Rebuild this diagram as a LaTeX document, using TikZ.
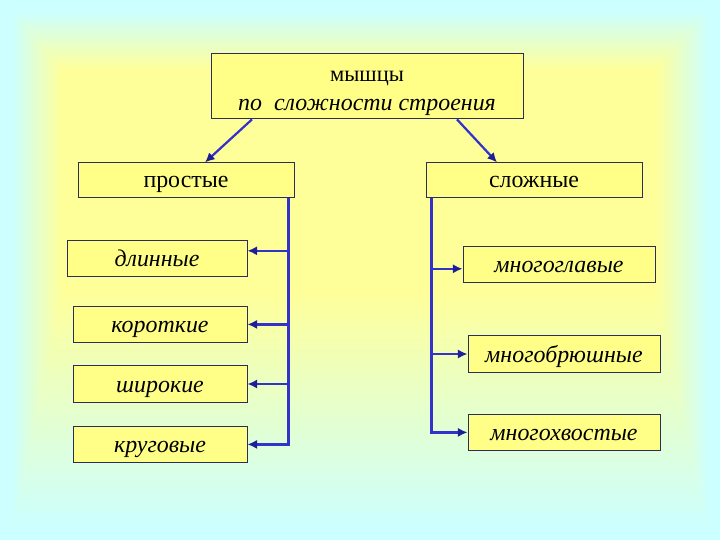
\documentclass[tikz,border=0pt]{standalone}
\usepackage{fontspec}
\setmainfont{Liberation Serif}
\usepackage{tikz}
\usetikzlibrary{arrows.meta,positioning,calc}
\definecolor{mcbgcyan}{RGB}{204,255,255}
\definecolor{mcbgyellow}{RGB}{255,255,153}
\definecolor{mcfill}{RGB}{255,255,136}
\definecolor{mcline}{RGB}{45,45,90}
\definecolor{mcblue}{RGB}{51,51,204}
\definecolor{mctip}{RGB}{30,30,150}
\tikzset{
mcbox/.style={rectangle,draw=mcline,fill=mcfill,line width=0.7pt,align=center,inner sep=0pt},
mcroot/.style={mcbox,minimum width=7.8cm,text height=1.425cm,text depth=0.2cm,font=\fontsize{16}{21}\selectfont},
mcgroup/.style={mcbox,minimum width=5.4cm,text height=0.625cm,text depth=0.25cm,font=\fontsize{17}{20}\selectfont},
mcleaf/.style={mcbox,minimum width=4.35cm,text height=0.67cm,text depth=0.25cm,font=\fontsize{17}{20}\selectfont\itshape},
mcarr/.style={-{Latex[length=2.4mm,width=2.3mm,color=mctip]},draw=mcblue,line width=1.6pt},
mcbg/.style={draw=none}
}
\begin{document}
\begin{tikzpicture}[x=1cm,y=1cm]
\useasboundingbox (0,0) rectangle (18,-13.5);
% background
\fill[mcbgcyan] (0,0) rectangle (18,-13.5);
\shade[mcbg,top color=mcbgcyan,bottom color=mcbgyellow] (0.3,-0.3) -- (17.7,-0.3) -- (16.375,-1.75) -- (1.55,-1.75) -- cycle;
\shade[mcbg,left color=mcbgcyan,right color=mcbgyellow] (0.3,-0.3) -- (1.55,-1.75) -- (1.55,-7.25) -- (0.3,-13.2) -- cycle;
\shade[mcbg,right color=mcbgcyan,left color=mcbgyellow] (17.7,-0.3) -- (16.375,-1.75) -- (16.375,-7.25) -- (17.7,-13.2) -- cycle;
\shade[mcbg,bottom color=mcbgcyan,top color=mcbgyellow] (0.3,-13.2) -- (1.55,-7.25) -- (16.375,-7.25) -- (17.7,-13.2) -- cycle;
\fill[mcbgyellow] (1.55,-1.75) rectangle (16.375,-7.25);
% boxes
\node[mcroot] (muscles) at (9.175,-2.16)
  {мышцы\\{\fontsize{17}{21}\selectfont\itshape по\ \ сложности строения}};
\node[mcgroup] (simple) at (4.65,-4.51) {простые};
\node[mcgroup] (complex) at (13.35,-4.51) {сложные};
\node[mcleaf,minimum width=4.5cm] (long) at (3.925,-6.46) {длинные};
\node[mcleaf] (short) at (4.0,-8.11) {короткие};
\node[mcleaf] (wide) at (4.0,-9.6) {широкие};
\node[mcleaf] (round) at (4.0,-11.11) {круговые};
\node[mcleaf,minimum width=4.8cm] (manyhead) at (13.975,-6.61) {многоглавые};
\node[mcleaf,minimum width=4.8cm] (manybelly) at (14.1,-8.85) {многобрюшные};
\node[mcleaf,minimum width=4.8cm] (manytail) at (14.1,-10.81) {многохвостые};
% connectors
\draw[mcarr] ([xshift=-2.875cm]muscles.south) -- ([xshift=0.475cm]simple.north);
\draw[mcarr] ([xshift=2.25cm]muscles.south) -- ([xshift=-0.925cm]complex.north);
\coordinate (ltop) at ([xshift=-0.15cm]simple.south east);
\coordinate (rtop) at ([xshift=0.15cm]complex.south west);
\coordinate (longin) at ([yshift=0.19cm]long.east);
\coordinate (headin) at ([yshift=-0.11cm]manyhead.west);
\draw[mcarr] (ltop) |- (round.east);
\draw[mcarr] (ltop |- longin) -- (longin);
\draw[mcarr] (ltop |- short.east) -- (short.east);
\draw[mcarr] (ltop |- wide.east) -- (wide.east);
\draw[mcarr] (rtop) |- (manytail.west);
\draw[mcarr] (rtop |- headin) -- (headin);
\draw[mcarr] (rtop |- manybelly.west) -- (manybelly.west);
\end{tikzpicture}
\end{document}
